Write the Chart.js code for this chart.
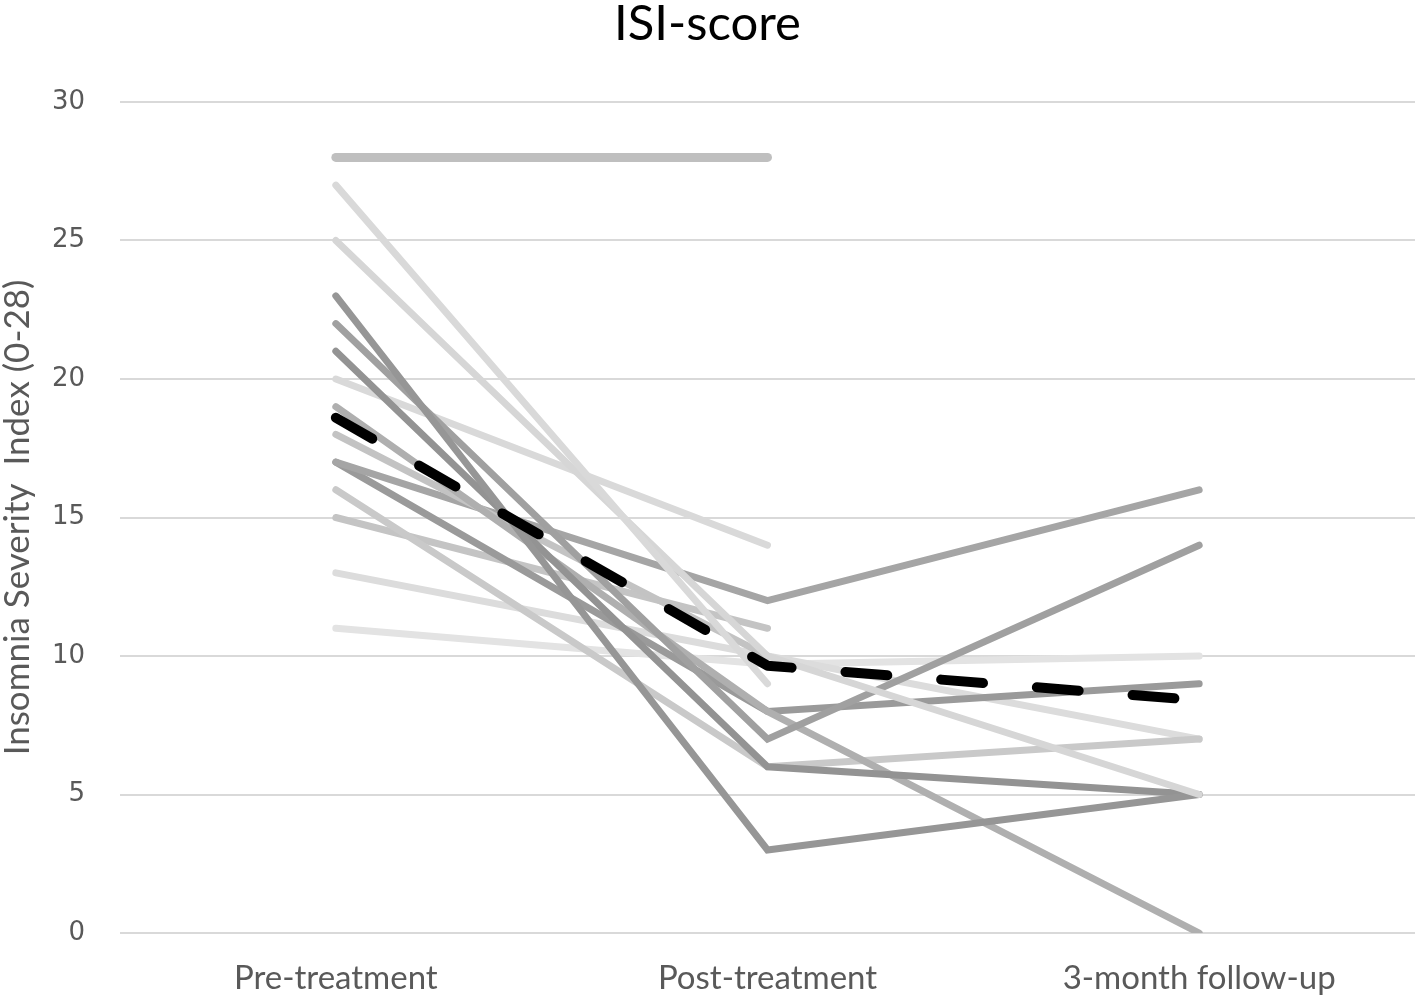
<!DOCTYPE html>
<html>
<head>
<meta charset="utf-8">
<script src="https://cdn.jsdelivr.net/npm/chart.js@4.4.1/dist/chart.umd.min.js"></script>
<style>
  html, body { margin: 0; padding: 0; background: #ffffff; }
  #wrap { width: 1415px; height: 996px; position: relative; }
</style>
</head>
<body>
<div id="wrap"><canvas id="c"></canvas></div>
<script>
// ---- data ----
const categories = ['Pre-treatment', 'Post-treatment', '3-month follow-up'];
const yTicks = [0, 5, 10, 15, 20, 25, 30];

const subj01 = [28, 28, null];
const subj02 = [27, 9, null];
const subj03 = [25, 10, 5];
const subj04 = [23, 3, 5];
const subj05 = [22, 7, 14];
const subj06 = [21, 6, 5];
const subj07 = [20, 14, null];
const subj08 = [19, 8, 0];
const subj09 = [18, 10, null];
const subj10 = [17, 12, 16];
const subj11 = [17, 8, 9];
const subj12 = [16, 6, 7];
const subj13 = [15, 11, null];
const subj14 = [13, 10, 7];
const subj15 = [11, 9.7, 10];
const meanScore = [18.6, 9.65, 8.4];

const subjects = [subj01, subj02, subj03, subj04, subj05, subj06, subj07, subj08,
                  subj09, subj10, subj11, subj12, subj13, subj14, subj15];

// ---- styles ----
const subjColors = ['#bfbfbf', '#d9d9d9', '#d6d6d6', '#969696', '#a0a0a0', '#939393', '#d9d9d9', '#afafaf',
                    '#c3c3c3', '#a5a5a5', '#9a9a9a', '#c9c9c9', '#c4c4c4', '#dcdcdc', '#e3e3e3'];
const subjWidths = [9, 7, 7, 7, 7, 7, 7, 7, 7, 7, 7, 7, 7, 7, 7];

const datasets = [{
  label: 'Mean',
  data: meanScore,
  borderColor: '#000000',
  borderWidth: 10,
  borderDash: [42, 54],
  borderCapStyle: 'round',
  borderJoinStyle: 'round',
  pointRadius: 0,
  tension: 0,
  fill: false
}];
subjects.forEach((arr, i) => {
  datasets.push({
    label: 'Subject ' + (i + 1),
    data: arr,
    borderColor: subjColors[i],
    borderWidth: subjWidths[i],
    borderCapStyle: 'round',
    borderJoinStyle: 'miter',
    pointRadius: 0,
    tension: 0,
    fill: false,
    spanGaps: false
  });
});

new Chart(document.getElementById('c'), {
  type: 'line',
  data: { labels: categories, datasets: datasets },
  options: {
    responsive: true,
    maintainAspectRatio: false,
    animation: false,
    layout: { padding: { left: 0, right: 0, top: 0, bottom: 0 } },
    plugins: {
      legend: { display: false },
      tooltip: { enabled: false },
      title: {
        display: true,
        text: 'ISI-score',
        color: '#000000',
        font: { family: 'Lato, "Open Sans", sans-serif', size: 49, weight: 'normal', lineHeight: 1.0 },
        padding: { top: 0, bottom: 53 }
      }
    },
    scales: {
      x: {
        type: 'category',
        offset: true,
        grid: { display: false, drawTicks: false },
        border: { display: false },
        ticks: {
          color: '#595959',
          font: { family: 'Lato, "Open Sans", sans-serif', size: 33, lineHeight: 1.0 },
          padding: 29,
          maxRotation: 0,
          autoSkip: false
        },
        afterFit: (s) => { s.height = 63; }
      },
      y: {
        min: 0,
        max: 30,
        afterBuildTicks: (s) => { s.ticks = yTicks.map(v => ({ value: v })); },
        grid: { color: '#d9d9d9', lineWidth: 2, drawTicks: false },
        border: { display: false },
        ticks: {
          color: '#595959',
          font: { family: '"DejaVu Sans", sans-serif', size: 26 },
          padding: 35
        },
        title: {
          display: true,
          text: 'Insomnia Severity  Index (0-28)',
          color: '#595959',
          font: { family: 'Lato, "Open Sans", sans-serif', size: 35, lineHeight: 1.0 },
          padding: { top: 0, bottom: 0 }
        },
        afterFit: (s) => { s.width = 120; }
      }
    }
  }
});
</script>
</body>
</html>
